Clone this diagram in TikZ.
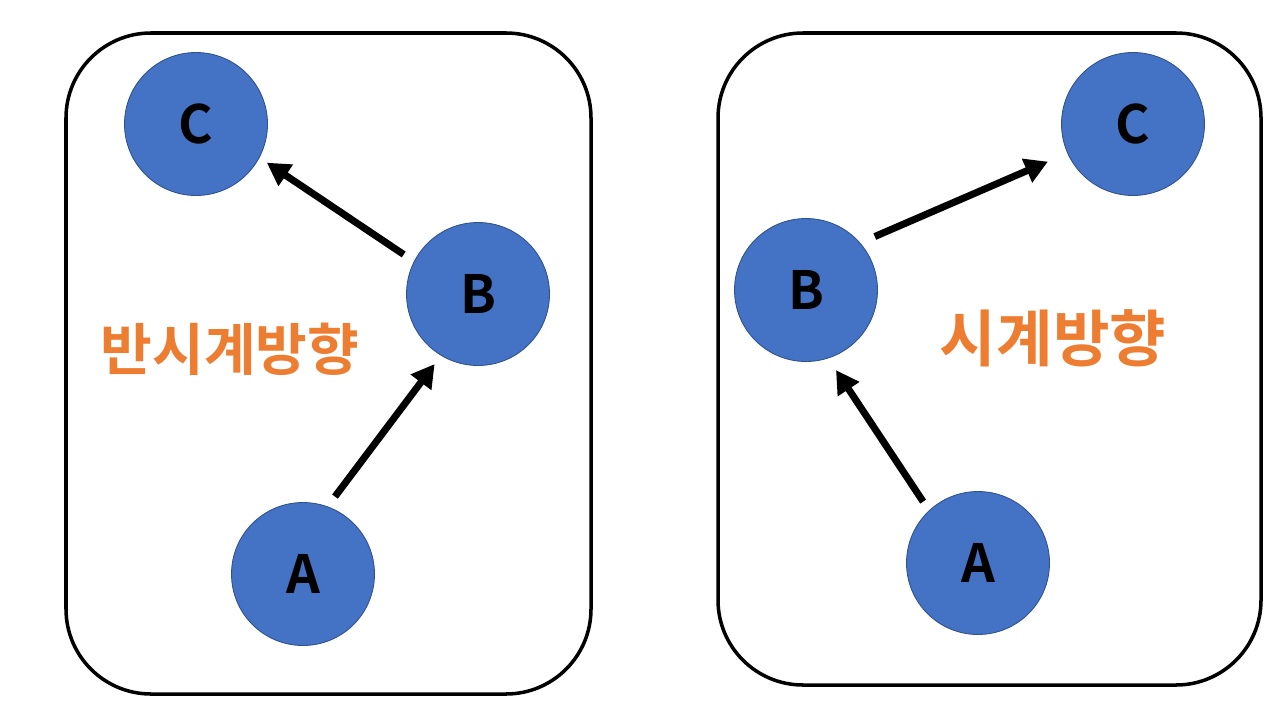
\documentclass[tikz,border=0pt]{standalone}
\usepackage{fontspec}
\setmainfont{Noto Sans CJK KR}[BoldFont={Noto Sans CJK KR Bold}]
\usetikzlibrary{arrows.meta}
\definecolor{fg}{HTML}{000000}
\definecolor{nodefill}{HTML}{4472C4}
\definecolor{nodeline}{HTML}{2F528F}
\definecolor{accent}{HTML}{ED7D31}
\tikzset{
  frame/.style={draw=fg,line width=2pt,rounded corners=1.7cm},
  vertex/.style={circle,fill=nodefill,draw=nodeline,line width=0.5pt,minimum size=2.86cm,inner sep=0pt,
    font=\fontsize{30}{30}\selectfont\bfseries},
  link/.style={draw=fg,line width=4pt,-{Triangle[length=13pt,width=14pt]}},
  dirlabel/.style={text=accent,font=\fontsize{32}{32}\selectfont\bfseries}
}

\begin{document}
\begin{tikzpicture}[x=0.02cm,y=-0.02cm]
  \useasboundingbox (0,0) rectangle (1280,720);
  \draw[frame] (66,33) rectangle (591,694);
  \draw[frame] (718,33) rectangle (1261,685);

  % counter-clockwise
  \node[vertex] (lC) at (196,124) {C};
  \node[vertex] (lB) at (478,294) {B};
  \node[vertex] (lA) at (303,574) {A};
  \node[dirlabel] (ccw) at (230,349) {반시계방향};
  \draw[link,shorten <=7pt,shorten >=5pt] (lB.153) -- (lC.332);
  \draw[link,shorten <=7pt,shorten >=6pt] (lA.70) -- (lB.239);

  % clockwise
  \node[vertex] (rC) at (1133,124) {C};
  \node[vertex] (rB) at (806,290) {B};
  \node[vertex] (rA) at (978,563) {A};
  \node[dirlabel,font=\fontsize{35}{35}\selectfont\bfseries] (cw) at (1053,338) {시계방향};
  \draw[link,shorten <=9pt,shorten >=12pt] (rB.41) -- (rC.204);
  \draw[link,shorten <=6pt,shorten >=8pt] (rA.133) -- (rB.288);
\end{tikzpicture}
\end{document}
